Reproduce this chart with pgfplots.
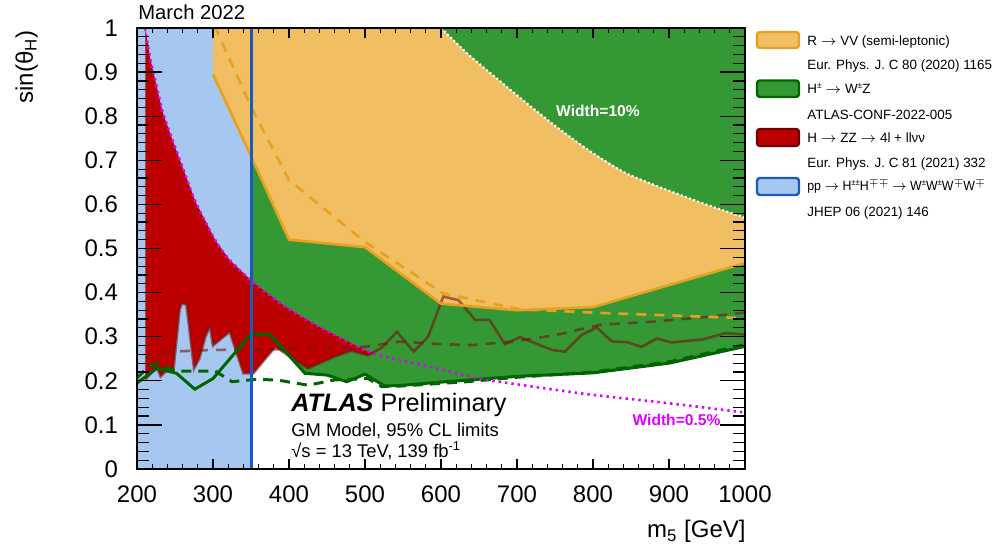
\documentclass[border=0pt]{standalone}
\usepackage{fontspec}
\setmainfont{Liberation Sans}
\usepackage{graphicx}
\usepackage{pgfplots}
\pgfplotsset{compat=1.18}

\definecolor{cblue}{RGB}{166,200,240}
\definecolor{cblueline}{RGB}{25,90,190}
\definecolor{cgreen}{RGB}{52,152,52}
\definecolor{cgreenline}{RGB}{0,100,0}
\definecolor{corange}{RGB}{242,190,98}
\definecolor{corangeline}{RGB}{232,160,32}
\definecolor{cred}{RGB}{188,0,0}
\definecolor{credline}{RGB}{110,0,0}
\definecolor{czz}{RGB}{120,20,20}
\definecolor{cmag}{RGB}{221,0,255}

\newcommand\legfont{\fontsize{6.7bp}{8bp}\selectfont}
% small superscript for the legend
\newcommand\sps[1]{\raisebox{0.75ex}{\fontsize{4.2bp}{5bp}\selectfont #1}}

\begin{document}
\begin{tikzpicture}
\path[use as bounding box] (-68.5bp,-39.5bp) rectangle (429bp,234.5bp);
\begin{axis}[
  at={(0,0)}, anchor=south west,
  width=304bp, height=220.5bp, scale only axis,
  xmin=200, xmax=1000, ymin=0, ymax=1,
  xtick={200,300,400,500,600,700,800,900,1000},
  ytick={0,0.1,0.2,0.3,0.4,0.5,0.6,0.7,0.8,0.9,1},
  minor x tick num=4, minor y tick num=4,
  tick align=inside, tick pos=both,
  xticklabel pos=lower, yticklabel pos=left,
  major tick length=12.5bp, minor tick length=6bp,
  xtick style={/pgfplots/major tick length=5bp,/pgfplots/minor tick length=2.5bp},
  every tick/.append style={black, line width=0.6bp},
  axis line style={line width=0.8bp},
  axis on top,
  tick label style={font=\fontsize{12bp}{14bp}\selectfont},
  /pgf/number format/assume math mode=true,
  /pgf/number format/1000 sep={},
  xticklabel style={yshift=-5bp},
  yticklabel style={xshift=-6bp, /pgf/number format/fixed, /pgf/number format/precision=1},
]
% pp -> H++H-- : m5 < 350 excluded
\addplot[fill=cblue, draw=none] coordinates {(200,0) (350,0) (350,1) (200,1)} -- cycle;

% H+- -> W+-Z observed: excluded above the line
\addplot[fill=cgreen, draw=none] coordinates {
  (350,0.306) (375,0.305) (421,0.217) (450,0.213) (476,0.198) (500,0.215)
  (526,0.188) (550,0.19) (600,0.197) (700,0.21) (800,0.218) (900,0.24)
  (1000,0.278) (1000,1) (350,1)} -- cycle;

% R -> VV: between observed line and width=10% curve
\addplot[fill=corange, draw=none] coordinates {
  (300,1.0) (300,0.895) (350,0.71) (400,0.52) (500,0.503) (600,0.375)
  (700,0.36) (800,0.367) (1000,0.467)
  (1000,0.57) (950,0.599) (897,0.633) (844,0.67) (800,0.716) (757,0.769)
  (713,0.829) (673,0.886) (634,0.943) (600,1.0)} -- cycle;

% H -> ZZ: between observed line and width=0.5% curve
\addplot[fill=cred, draw=none] coordinates {
  (211,1.0) (217.5,0.93) (224,0.882) (230,0.837) (235,0.803)
  (248,0.74) (259,0.689) (277,0.606) (303,0.519) (322,0.474) (353,0.423)
  (395,0.368) (439,0.323) (504,0.266) (512,0.262)
  (504,0.258) (482,0.268) (460,0.255) (425,0.228) (382,0.277) (353,0.217)
  (340,0.217) (322,0.311) (300,0.28) (296,0.323) (290,0.30) (282,0.25)
  (275,0.228) (268,0.33) (265,0.372) (259,0.376) (256,0.36) (248,0.225)
  (240,0.225) (231,0.21) (226,0.232) (211,0.203)} -- cycle;

% H -> ZZ expected and observed
\addplot[czz, draw opacity=0.6, line width=1.3bp, dash pattern=on 5bp off 4bp] coordinates {
  (211,0.252) (224,0.253) (241,0.266) (300,0.27) (400,0.272) (500,0.277)
  (546,0.289) (600,0.283) (642,0.281) (700,0.29) (752,0.304) (809,0.327)
  (879,0.334) (950,0.345) (1000,0.355)};
\addplot[czz, draw opacity=0.6, line width=1.3bp] coordinates {
  (211,0.203) (226,0.232) (231,0.21) (240,0.225) (248,0.225)
  (256,0.36) (259,0.376) (265,0.372) (268,0.33) (275,0.228) (282,0.25)
  (290,0.30) (296,0.323) (300,0.28) (322,0.311) (340,0.217) (353,0.217)
  (382,0.277) (425,0.228) (460,0.255) (482,0.268) (504,0.258) (522,0.275)
  (542,0.311) (564,0.266) (583,0.30) (603,0.391) (623,0.383) (645,0.338)
  (664,0.338) (684,0.283) (704,0.299) (746,0.27) (763,0.266) (785,0.304)
  (805,0.321) (825,0.289) (844,0.288) (864,0.277) (884,0.296) (903,0.287)
  (945,0.294) (974,0.308) (1000,0.305)};

% H+- -> W+-Z expected and observed
\addplot[cgreenline, line width=1.5bp, dash pattern=on 5bp off 3.5bp] coordinates {
  (200,0.207) (213,0.228) (226,0.24) (250,0.222) (303,0.222) (325,0.198)
  (355,0.203) (384,0.202) (425,0.19) (460,0.202) (504,0.205) (522,0.187)
  (546,0.188) (634,0.198) (700,0.208) (800,0.22) (900,0.243) (1000,0.282)};
\addplot[cgreenline, line width=1.5bp] coordinates {
  (200,0.195) (226,0.228) (252,0.217) (276,0.181) (300,0.205) (350,0.306)
  (375,0.305) (421,0.217) (450,0.213) (476,0.198) (500,0.215) (526,0.188)
  (550,0.19) (600,0.197) (700,0.21) (800,0.218) (900,0.24) (1000,0.278)};

% R -> VV expected and observed
\addplot[corangeline, line width=1.3bp, dash pattern=on 5bp off 4bp] coordinates {
  (302,1.005) (351,0.818) (400,0.655) (500,0.515) (603,0.398) (704,0.362)
  (809,0.354) (1000,0.342)};
\addplot[corangeline, line width=1.3bp] coordinates {
  (300,0.895) (350,0.71) (400,0.52) (500,0.503) (600,0.375) (700,0.36)
  (800,0.367) (1000,0.467)};

% pp -> H++H-- limit
\addplot[cblueline, line width=1.5bp] coordinates {(350,0) (350,1)};

% width curves
\addplot[cmag, line width=1.3bp, dash pattern=on 1.2bp off 2bp, smooth] coordinates {
  (210.5,1.0) (217.5,0.93) (224,0.882) (230,0.837) (235,0.803) (248,0.74)
  (259,0.689) (277,0.606) (303,0.519) (322,0.474) (353,0.423) (395,0.368)
  (439,0.323) (504,0.266) (546,0.247) (600,0.226) (650,0.205) (700,0.192)
  (757,0.178) (800,0.168) (900,0.149) (1000,0.128)};
\addplot[white, line width=1.1bp, dash pattern=on 1bp off 1.2bp, smooth] coordinates {
  (600,1.0) (634,0.943) (673,0.886) (713,0.829) (757,0.769) (800,0.716)
  (844,0.67) (897,0.633) (950,0.599) (1000,0.57)};
\end{axis}

\begin{scope}[x=0.5bp, y=-0.5bp, shift={(-68.5bp,234.5bp)}]
  \node[anchor=base west, inner sep=0, font=\fontsize{10.1bp}{12bp}\selectfont] at (138,19.5) {March 2022};
  \node[anchor=base east, inner sep=0, rotate=90, font=\fontsize{12bp}{14bp}\selectfont] at (33,30) {sin(θ\textsubscript{H})};
  \node[anchor=base east, inner sep=0, font=\fontsize{12bp}{14bp}\selectfont] at (746,538) {m\textsubscript{5} [GeV]};

  \node[anchor=base west, inner sep=0, font=\fontsize{12.6bp}{14bp}\selectfont] at (291,411.5) {\textbf{\textit{ATLAS}} Preliminary};
  \node[anchor=base west, inner sep=0, font=\fontsize{9.2bp}{11bp}\selectfont] at (291,436.5) {GM Model, 95\% CL limits};
  \node[anchor=base west, inner sep=0, font=\fontsize{9.2bp}{11bp}\selectfont] at (291,458) {√s = 13 TeV, 139 fb\textsuperscript{-1}};

  \node[anchor=base, inner sep=0, text=white, font=\fontsize{7.8bp}{9bp}\selectfont\bfseries] at (598,116.5) {Width=10\%};
  \node[anchor=base, inner sep=0, text=cmag, font=\fontsize{7.8bp}{9bp}\selectfont\bfseries] at (676.5,426) {Width=0.5\%};

  % legend
  \draw[fill=corange, draw=corangeline, line width=1.2bp, rounded corners=1.5bp] (757,32) rectangle (799,48);
  \draw[fill=cgreen, draw=cgreenline, line width=1.2bp, rounded corners=1.5bp] (757,80.5) rectangle (799,97);
  \draw[fill=cred, draw=credline, line width=1.2bp, rounded corners=1.5bp] (757,129) rectangle (799,146);
  \draw[fill=cblue, draw=cblueline, line width=1.2bp, rounded corners=1.5bp] (757,178) rectangle (799,195);
  \begin{scope}[every node/.style={anchor=base west, inner sep=0, font=\legfont}]
    \node at (807,46) {R $\rightarrow$ VV (semi-leptonic)};
    \node at (807,70) {Eur. Phys. J. C 80 (2020) 1165};
    \node at (807,94) {H\sps{±} $\rightarrow$ W\sps{±}Z};
    \node at (807,119.3) {ATLAS-CONF-2022-005};
    \node at (807,142.7) {H $\rightarrow$ ZZ $\rightarrow$ 4l + llνν};
    \node at (807,167.7) {Eur. Phys. J. C 81 (2021) 332};
    \node at (807,190.7) {\scalebox{0.92}[1]{pp $\rightarrow$ H\sps{±±}H\sps{$\mp\mp$} $\rightarrow$ W\sps{±}W\sps{±}W\sps{$\mp$}W\sps{$\mp$}}};
    \node at (807,216.7) {JHEP 06 (2021) 146};
  \end{scope}
\end{scope}
\end{tikzpicture}
\end{document}
